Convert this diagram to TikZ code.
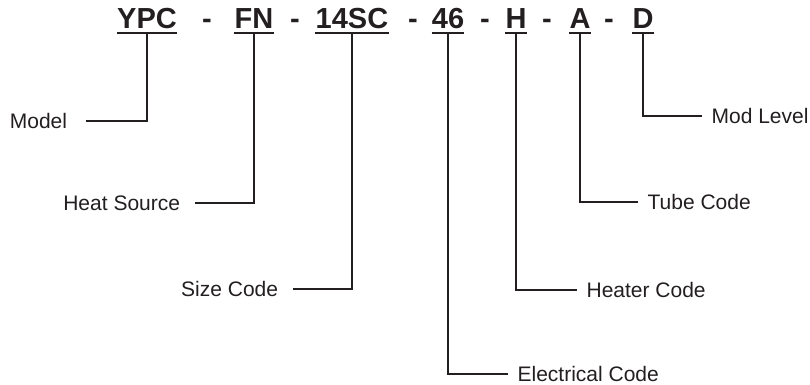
\documentclass[tikz,border=0pt]{standalone}
\usepackage{fontspec}
\setmainfont{Liberation Sans}
\usetikzlibrary{positioning}
\definecolor{inkgray}{RGB}{35,31,32}

\begin{document}
\begin{tikzpicture}[
    x=0.75pt, y=-0.75pt,
    code/.style={
        anchor=base, inner sep=0pt, text=inkgray,
        font=\fontsize{21.75}{26}\selectfont\bfseries
    },
    lblleft/.style={
        anchor=east, inner ysep=0pt, inner xsep=11pt,
        text=inkgray, font=\fontsize{15.75}{19}\selectfont
    },
    lblright/.style={
        anchor=west, inner ysep=0pt, inner xsep=7pt,
        text=inkgray, font=\fontsize{15.75}{19}\selectfont
    },
    lead/.style={line width=1.5pt, inkgray, line join=miter}
]
\useasboundingbox (0,0) rectangle (810,385);

% part number
\node[code] (ypc)  at (147,29) {YPC};
\node[code] (dash1) at (207,29) {-};
\node[code] (fn)   at (254,29) {FN};
\node[code] (dash2) at (295,29) {-};
\node[code] (size) at (352,29) {14SC};
\node[code] (dash3) at (413,29) {-};
\node[code] (elec) at (448,29) {46};
\node[code] (dash4) at (485,29) {-};
\node[code] (heat) at (516,29) {H};
\node[code] (dash5) at (547,29) {-};
\node[code] (tube) at (580,29) {A};
\node[code] (dash6) at (609,29) {-};
\node[code] (mod)  at (643,29) {D};

% underlines
\draw[lead] ([yshift=-3pt]ypc.base west) -- ([yshift=-3pt]ypc.base east);
\draw[lead] ([yshift=-3pt]fn.base west) -- ([yshift=-3pt]fn.base east);
\draw[lead] ([yshift=-3pt]size.base west) -- ([yshift=-3pt]size.base east);
\draw[lead] ([yshift=-3pt]elec.base west) -- ([yshift=-3pt]elec.base east);
\draw[lead] ([yshift=-3pt]heat.base west) -- ([yshift=-3pt]heat.base east);
\draw[lead] ([yshift=-3pt]tube.base west) -- ([yshift=-3pt]tube.base east);
\draw[lead] ([yshift=-3pt]mod.base west) -- ([yshift=-3pt]mod.base east);

% descriptions
\node[lblleft, inner xsep=14pt] (model) at (86,121) {Model};
\node[lblleft] (source)  at (195,203) {Heat Source};
\node[lblleft] (sizelbl) at (293,289) {Size Code};
\node[lblright] (modlbl)  at (702,116) {Mod Level};
\node[lblright] (tubelbl) at (638,202) {Tube Code};
\node[lblright] (heatlbl) at (577,290) {Heater Code};
\node[lblright] (eleclbl) at (508,374) {Electrical Code};

% leaders
\draw[lead] ([yshift=-3pt]ypc.base) |- (model.east);
\draw[lead] ([yshift=-3pt]fn.base) |- (source.east);
\draw[lead] ([yshift=-3pt]size.base) |- (sizelbl.east);
\draw[lead] ([yshift=-3pt]elec.base) |- (eleclbl.west);
\draw[lead] ([yshift=-3pt]heat.base) |- (heatlbl.west);
\draw[lead] ([yshift=-3pt]tube.base) |- (tubelbl.west);
\draw[lead] ([yshift=-3pt]mod.base) |- (modlbl.west);
\end{tikzpicture}
\end{document}
